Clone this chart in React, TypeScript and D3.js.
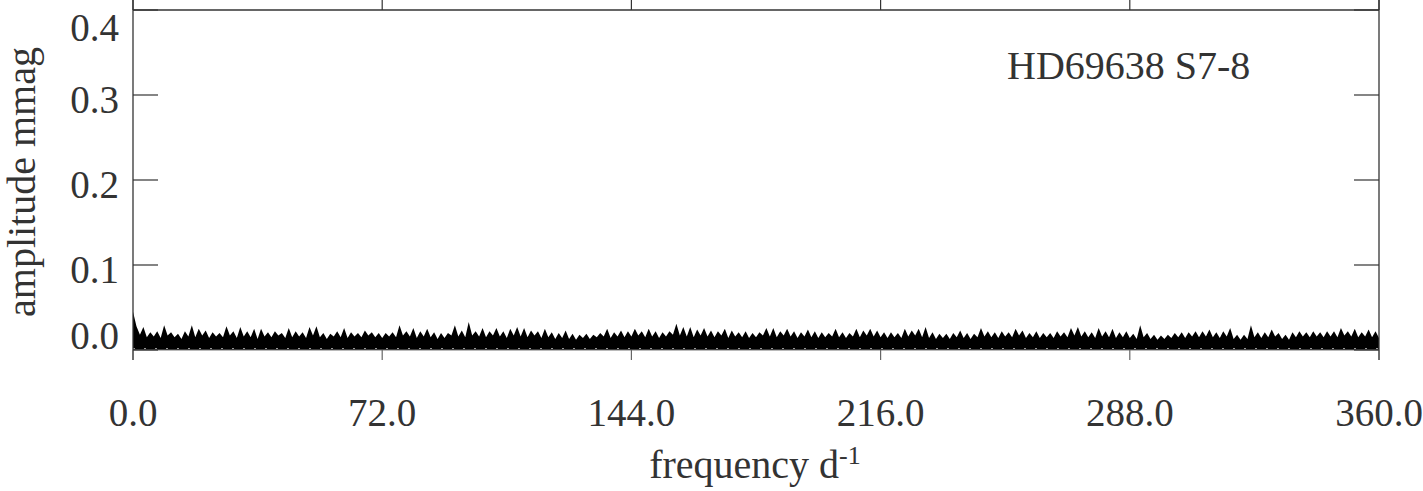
import React from 'react';
import * as d3 from 'd3';

// frequency ticks (d^-1) and amplitude ticks (mmag)
const freqTicks = [0, 72, 144, 216, 288, 360];
const ampTicks = [0.0, 0.1, 0.2, 0.3, 0.4];

// spectrum, 2 d^-1 bins
// dips: amplitude at bin edges f = 0, 2, 4 ... 360
const dips = [
  0.045,
  0.018, 0.015, 0.016, 0.014, 0.017, 0.015, 0.013, 0.016, 0.015, 0.017,
  0.014, 0.016, 0.015, 0.017, 0.014, 0.016, 0.015, 0.013, 0.016, 0.015,
  0.017, 0.014, 0.015, 0.016, 0.014, 0.017, 0.015, 0.013, 0.016, 0.015,
  0.014, 0.016, 0.015, 0.017, 0.015, 0.014, 0.016, 0.015, 0.017, 0.016,
  0.014, 0.016, 0.015, 0.013, 0.014, 0.017, 0.016, 0.015, 0.017, 0.016,
  0.015, 0.017, 0.016, 0.014, 0.017, 0.016, 0.015, 0.017, 0.014, 0.015,
  0.013, 0.014, 0.013, 0.012, 0.014, 0.013, 0.015, 0.016, 0.014, 0.016,
  0.015, 0.016, 0.017, 0.015, 0.016, 0.014, 0.016, 0.018, 0.017, 0.016,
  0.015, 0.017, 0.016, 0.015, 0.017, 0.014, 0.016, 0.015, 0.014, 0.015,
  0.017, 0.016, 0.015, 0.017, 0.016, 0.014, 0.016, 0.015, 0.014, 0.015,
  0.016, 0.015, 0.014, 0.016, 0.015, 0.017, 0.016, 0.015, 0.014, 0.015,
  0.014, 0.016, 0.017, 0.015, 0.014, 0.013, 0.014, 0.013, 0.015, 0.014,
  0.013, 0.015, 0.016, 0.015, 0.014, 0.016, 0.015, 0.017, 0.014, 0.015,
  0.014, 0.015, 0.014, 0.016, 0.015, 0.017, 0.016, 0.015, 0.014, 0.016,
  0.015, 0.014, 0.015, 0.014, 0.013, 0.015, 0.013, 0.012, 0.013, 0.014,
  0.015, 0.014, 0.016, 0.015, 0.016, 0.015, 0.014, 0.016, 0.013, 0.012,
  0.013, 0.015, 0.014, 0.015, 0.016, 0.013, 0.012, 0.015, 0.016, 0.015,
  0.016, 0.015, 0.016, 0.015, 0.017, 0.016, 0.015, 0.016, 0.015, 0.014,
];
// peaks: highest amplitude inside each bin, at f = 1, 3, 5 ... 359
const peaks = [
  0.028, 0.027, 0.021, 0.022, 0.029, 0.021, 0.019, 0.022, 0.029, 0.025,
  0.023, 0.021, 0.020, 0.028, 0.022, 0.027, 0.022, 0.025, 0.025, 0.021,
  0.022, 0.020, 0.026, 0.022, 0.021, 0.027, 0.028, 0.020, 0.019, 0.022,
  0.026, 0.021, 0.020, 0.023, 0.021, 0.020,
  0.020, 0.021, 0.029, 0.022, 0.026, 0.022, 0.025, 0.021, 0.020, 0.020,
  0.029, 0.023, 0.033, 0.022, 0.026, 0.022, 0.026, 0.022, 0.025, 0.027,
  0.026, 0.023, 0.022, 0.025, 0.021, 0.020, 0.023, 0.019, 0.018, 0.019,
  0.018, 0.020, 0.025, 0.021, 0.023, 0.022,
  0.025, 0.022, 0.025, 0.022, 0.021, 0.022, 0.031, 0.027, 0.027, 0.024,
  0.026, 0.023, 0.022, 0.025, 0.023, 0.021, 0.022, 0.020, 0.021, 0.026,
  0.026, 0.022, 0.025, 0.022, 0.021, 0.024, 0.022, 0.021, 0.020, 0.025,
  0.021, 0.020, 0.025, 0.023, 0.025, 0.023,
  0.021, 0.021, 0.020, 0.025, 0.023, 0.025, 0.027, 0.021, 0.019, 0.019,
  0.020, 0.023, 0.020, 0.019, 0.026, 0.022, 0.021, 0.022, 0.021, 0.025,
  0.023, 0.020, 0.022, 0.020, 0.020, 0.022, 0.021, 0.026, 0.027, 0.022,
  0.021, 0.026, 0.022, 0.025, 0.021, 0.022,
  0.019, 0.029, 0.020, 0.018, 0.017, 0.018, 0.020, 0.021, 0.021, 0.022,
  0.022, 0.024, 0.021, 0.022, 0.026, 0.018, 0.018, 0.029, 0.021, 0.021,
  0.024, 0.020, 0.018, 0.021, 0.022, 0.021, 0.022, 0.021, 0.022, 0.022,
  0.026, 0.022, 0.025, 0.021, 0.024, 0.022,
];

const W = 1423;
const H = 491;
const left = 133, right = 1379, top = 10, bottom = 350;
const ink = '#333';
const font = '"Liberation Serif", "Times New Roman", serif';

const App = () => {
  const x = d3.scaleLinear().domain([0, 360]).range([left, right]);
  const y = d3.scaleLinear().domain([0, 0.4]).range([bottom, top]);

  // interleave edges and peaks into one trace
  const trace: [number, number][] = [];
  peaks.forEach((p, i) => {
    trace.push([2 * i, dips[i]]);
    trace.push([2 * i + 1, p]);
  });
  trace.push([360, dips[dips.length - 1]]);

  const area = d3.area<[number, number]>()
    .x(d => x(d[0]))
    .y0(y(0))
    .y1(d => y(d[1]));

  // end labels are pulled inside the frame like the original
  const yLabelShift = (v: number) => (v === 0.4 ? 31 : v === 0 ? -1 : 18);

  return (
    <svg width={W} height={H} style={{position: 'absolute', left: 0, top: 0, background: '#fff'}}>
      <defs>
        <clipPath id="plot">
          <rect x={left} y={top} width={right - left} height={bottom - top} />
        </clipPath>
      </defs>

      <path d={area(trace) || ''} fill="#000" clipPath="url(#plot)" />
      <line x1={left} x2={right} y1={bottom - 1.5} y2={bottom - 1.5}
        stroke="#fff" strokeWidth={1} strokeDasharray="2 9" opacity={0.6} />
      <line x1={left} x2={right} y1={bottom} y2={bottom} stroke="#777" strokeWidth={1} />

      {/* frame */}
      <line x1={left} x2={left} y1={0} y2={360} stroke={ink} strokeWidth={1.3} />
      <line x1={right} x2={right} y1={0} y2={360} stroke={ink} strokeWidth={1.3} />
      <line x1={left} x2={right} y1={top} y2={top} stroke={ink} strokeWidth={1.3} />

      {/* x ticks, outward at top and bottom */}
      {freqTicks.map(t => (
        <g key={'xt' + t}>
          <line x1={x(t)} x2={x(t)} y1={0} y2={top} stroke={ink} strokeWidth={1.2} />
          <line x1={x(t)} x2={x(t)} y1={bottom} y2={bottom + 10} stroke="#666" strokeWidth={1.2} />
          <text x={x(t)} y={426} textAnchor="middle" fontFamily={font} fontSize={39} fill={ink}>
            {t.toFixed(1)}
          </text>
        </g>
      ))}

      {/* y ticks, inward on both sides */}
      {ampTicks.map(t => (
        <g key={'yt' + t}>
          <line x1={left} x2={left + 25} y1={y(t)} y2={y(t)} stroke={ink} strokeWidth={1.2} />
          <line x1={right - 25} x2={right} y1={y(t)} y2={y(t)} stroke={ink} strokeWidth={1.2} />
          <text x={119} y={y(t) + yLabelShift(t)} textAnchor="end" fontFamily={font} fontSize={39} fill={ink}>
            {t.toFixed(1)}
          </text>
        </g>
      ))}

      <text x={1007} y={79} fontFamily={font} fontSize={40} fill={ink}>HD69638 S7-8</text>

      <text x={(left + right) / 2 - 1} y={478} textAnchor="middle" fontFamily={font} fontSize={40} fill={ink}>
        frequency d<tspan dy={-14} fontSize={26}>-1</tspan>
      </text>
      <text transform={`translate(35, ${(top + bottom) / 2 + 2}) rotate(-90)`} textAnchor="middle"
        fontFamily={font} fontSize={40} fill={ink}>
        amplitude mmag
      </text>
    </svg>
  );
};

export default App;
